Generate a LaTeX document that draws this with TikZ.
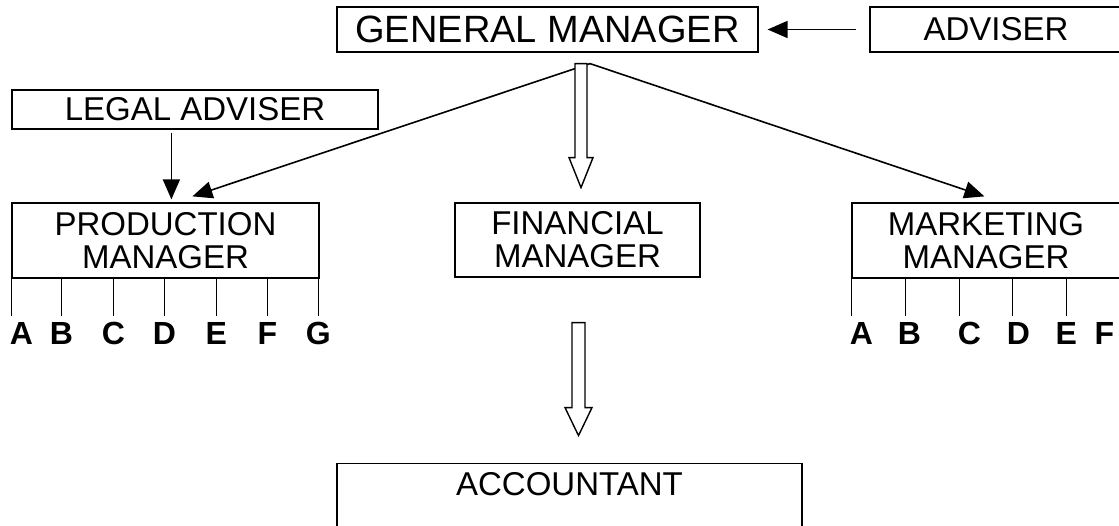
\documentclass[tikz,border=0pt]{standalone}
\usepackage{fontspec}
\setmainfont{Liberation Sans}
\usetikzlibrary{arrows.meta,calc}
\begin{document}
\begin{tikzpicture}[x=1pt,y=-1pt,
  box/.style={draw,line width=1.2pt,inner sep=0pt,align=center,font=\fontsize{33}{33}\selectfont},
  conn/.style={line width=1.6pt,-{Triangle[length=20pt,width=17pt]}},
  hollow/.style={draw,line width=1.4pt,fill=white},
  tickline/.style={line width=1.2pt},
  lbl/.style={font=\bfseries\fontsize{32}{32}\selectfont,inner sep=0pt,anchor=base}]
\useasboundingbox (0,0) rectangle (1119,526);
% boxes
\node[box,minimum width=421,minimum height=45,font=\fontsize{38}{38}\selectfont] (gm) at (547.5,29.5) {GENERAL MANAGER};
\node[box,minimum width=252,minimum height=45] (adv) at (996,29.5) {ADVISER};
\node[box,minimum width=366,minimum height=39] (legal) at (195,109.5) {LEGAL ADVISER};
\node[box,minimum width=307,minimum height=75] (pm) at (165.5,240.5) {PRODUCTION\\MANAGER};
\node[box,minimum width=245,minimum height=74] (fm) at (577.5,240) {FINANCIAL\\MANAGER};
\node[box,minimum width=268,minimum height=75] (mm) at (986,240.5) {MARKETING\\MANAGER};
\node[box,anchor=north,minimum width=465,inner ysep=9pt,text depth=50pt] (acc) at (569.5,463) {ACCOUNTANT};
% connectors
\draw[conn,shorten <=13pt,shorten >=9pt] (adv.west) -- (gm.east);
\draw[conn] ($(legal.south west)+(160,3)$) -- ($(pm.north west)+(160,-3)$);
\coordinate (src) at ($(gm.south)+(42.5,11)$);
\draw[conn] (src) -- ($(pm.north west)+(181,-6)$);
\draw[conn] (src) -- ($(mm.north west)+(133,-6)$);
% hollow arrows
\coordinate (h1) at ($(gm.south)+(33.5,11)$);
\draw[hollow] ($(h1)+(-6,0)$) -- ++(0,94) -- ++(-6,0) -- ++(12,30) -- ++(12,-30) -- ++(-6,0) -- ++(0,-94) -- cycle;
\coordinate (h2) at ($(fm.south)+(1,45)$);
\draw[hollow] ($(h2)+(-6.5,0)$) -- ++(0,85) -- ++(-7,0) -- ++(13.5,28) -- ++(13.5,-28) -- ++(-7,0) -- ++(0,-85) -- cycle;
% production sections
\foreach \dx in {0,50,102,153,205,256,307}
  \draw[tickline] ($(pm.south west)+(\dx,0)$) -- ++(0,37);
\foreach \l/\dx in {A/10,B/50,C/102,D/153,E/205,F/256,G/307}
  \node[lbl] (pm\l) at ($(pm.south west)+(\dx,66)$) {\l};
% marketing sections
\foreach \dx in {0,54,108,161,215}
  \draw[tickline] ($(mm.south west)+(\dx,0)$) -- ++(0,37);
\foreach \l/\dx in {A/10,B/58,C/118,D/167,E/215,F/253}
  \node[lbl] (mm\l) at ($(mm.south west)+(\dx,66)$) {\l};
\end{tikzpicture}
\end{document}
